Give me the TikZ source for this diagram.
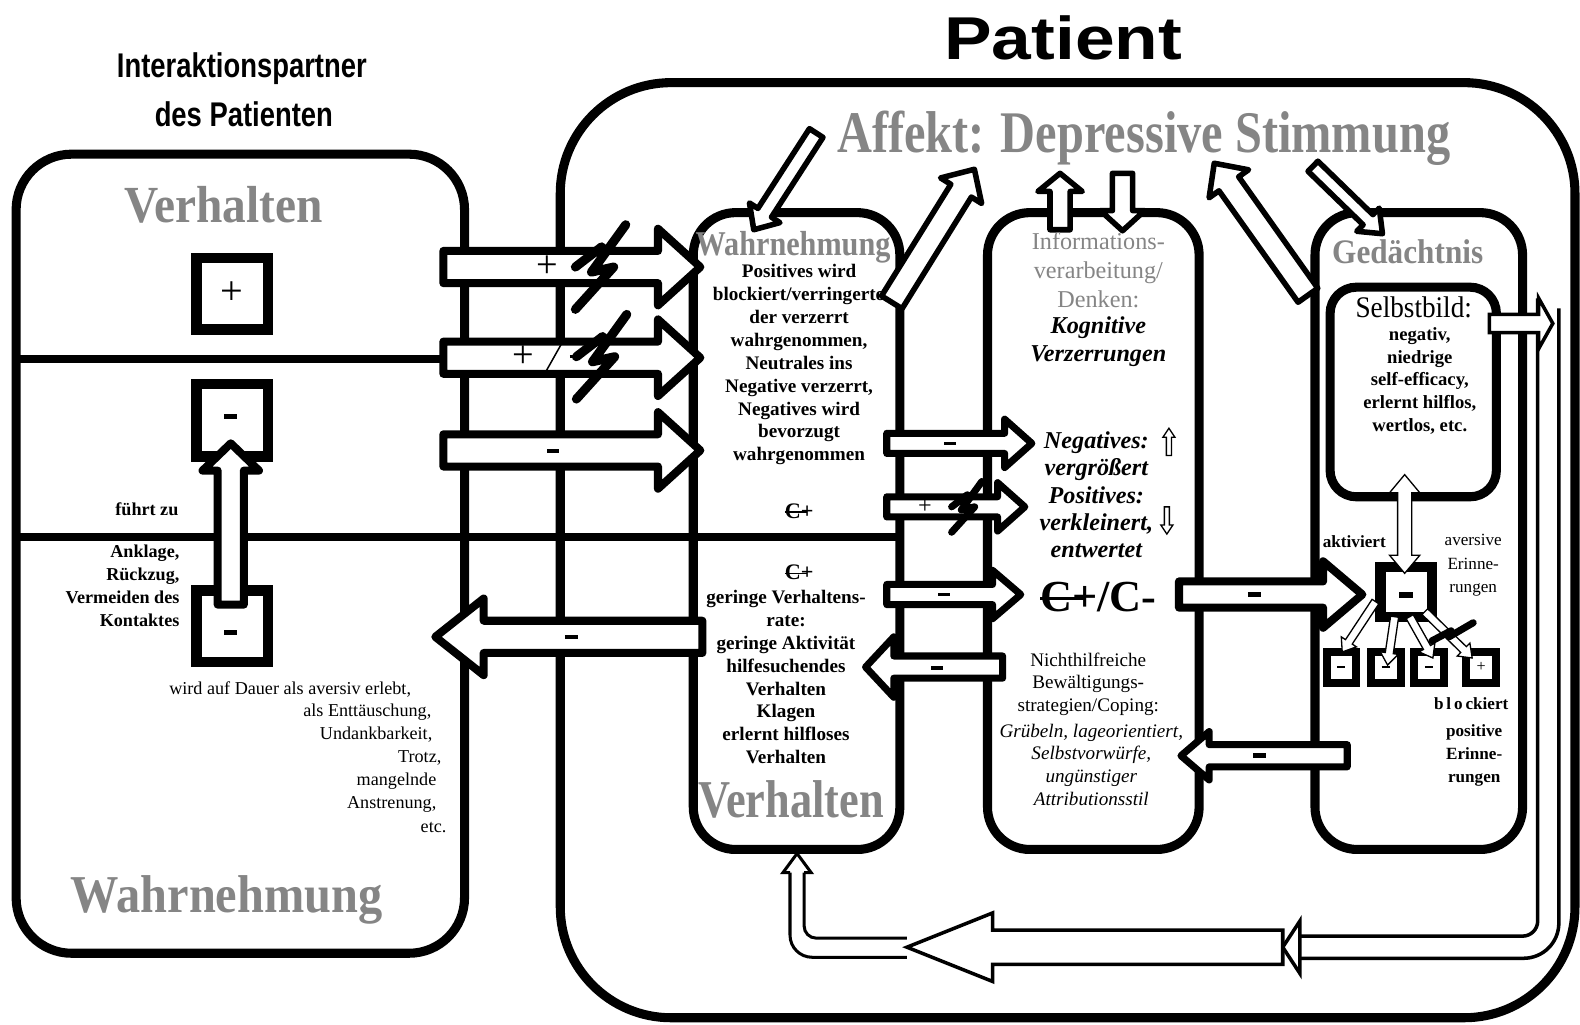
\documentclass[tikz,border=0pt]{standalone}
\usepackage{fontspec}
\usepackage{graphicx}
\setmainfont{Liberation Serif}
\newfontfamily\sansf{Liberation Sans}
\newcommand\fs[2]{\fontsize{#1}{#2}\selectfont}
\newcommand\Cs{\leavevmode\rlap{\rule[0.24em]{1.0em}{0.07em}}C+}
\newcommand\mbar[2]{\rule{#1pt}{#2pt}}
\newcommand\blockarr[8]{%
  \pgfmathsetmacro\bdx{#4-#2}%
  \pgfmathsetmacro\bdy{#5-#3}%
  \pgfmathsetmacro\blen{veclen(\bdx,\bdy)}%
  \pgfmathsetmacro\bang{atan2(-\bdy,\bdx)}%
  \pgfmathsetmacro\bbase{\blen-#8}%
  \draw[#1,shift={(#2,#3)},rotate=\bang] (0,-#6) -- (\bbase,-#6) -- (\bbase,-#7) -- (\blen,0) -- (\bbase,#7) -- (\bbase,#6) -- (0,#6) -- cycle;%
}
\newcommand\bolt[4]{%
  \draw[line width=#4pt,line cap=round,line join=round,shift={(#1,#2)},scale=#3]
    (-26,0) -- (0,-20) (24,-42) -- (-10,5) -- (12,0) -- (-26,42);%
}
\tikzset{
  barr/.style={draw,fill=white,line width=8pt,line join=round},
  carr/.style={draw,fill=white,line width=7pt,line join=round},
  warr/.style={draw,fill=white,line width=5.5pt,line join=round},
  tarr/.style={draw,fill=white,line width=1.3pt,line join=miter},
  rarr/.style={draw,fill=white,line width=3.5pt,line join=miter},
  gtxt/.style={text=black!48},
  bt/.style={font=\bfseries\fs{19}{22.7},align=center},
}
\begin{document}
\begin{tikzpicture}[x=1pt,y=-1pt,every node/.style={inner sep=0pt,outer sep=0pt}]
\fill[white] (0,0) rectangle (1568,1017);
\useasboundingbox (0,0) rectangle (1568,1017);

% ---------- frames ----------
\draw[line width=9pt,rounded corners=55pt] (16,153) rectangle (461,946);
\draw[line width=9pt,rounded corners=110pt] (556,82) rectangle (1563,1010);
\draw[line width=9pt,rounded corners=42pt] (688,211) rectangle (893,843);
\draw[line width=9pt,rounded corners=42pt] (980,211) rectangle (1190,843);
\draw[line width=9pt,rounded corners=42pt] (1305,211) rectangle (1511,843);
\draw[line width=9pt,rounded corners=26pt] (1320,285) rectangle (1485,493);
\draw[line width=8pt] (16,356) -- (461,356);
\draw[line width=8pt] (16,533) -- (893,533);

% ---------- small squares ----------
\draw[line width=10pt] (195,256) rectangle (266,327);
\draw[line width=10pt] (195,381) rectangle (266,453);
\draw[line width=10pt] (195,586) rectangle (266,657);
\draw[line width=10pt] (1370,563) rectangle (1421,612);
\draw[line width=8pt] (1317,647) rectangle (1346,678);
\draw[line width=8pt] (1361,647) rectangle (1390,678);
\draw[line width=8pt] (1403,647) rectangle (1433,678);
\draw[line width=8pt] (1455,647) rectangle (1485,678);

% ---------- return path ----------
\draw[line width=3.5pt,rounded corners=15pt] (1526,296) -- (1526,929) -- (1290,929);
\draw[line width=3.5pt,rounded corners=35pt] (1547,306) -- (1547,951) -- (1290,951);
\draw[line width=3.5pt,fill=white,line join=miter] (1290,914) -- (1273,940) -- (1290,966) -- cycle;
\blockarr{rarr}{1273}{940}{900}{940}{17}{34}{85}
\draw[line width=3pt,rounded corners=12pt] (900,931) -- (798,931) -- (798,866);
\draw[line width=3pt,rounded corners=22pt] (900,950) -- (784,950) -- (784,866);
\draw[line width=3pt,line join=miter] (798,866) -- (805,866) -- (791,847) -- (777,866) -- (784,866);
\blockarr{rarr}{1478}{321}{1541}{321}{9}{25}{14}

% ---------- block arrows ----------
\blockarr{barr}{440}{265}{695}{265}{16}{38}{42}
\blockarr{barr}{440}{355}{695}{355}{16}{38}{42}
\blockarr{barr}{440}{447}{695}{447}{16}{38}{42}
\blockarr{barr}{229}{600}{229}{440}{13}{28}{27}
\blockarr{barr}{697}{632}{432}{632}{16}{38}{48}
\blockarr{carr}{880}{440}{1024}{440}{10}{24}{27}
\blockarr{carr}{880}{503}{1017}{503}{10}{24}{27}
\blockarr{carr}{880}{590}{1013}{590}{10}{24}{28}
\blockarr{carr}{995}{662}{859}{662}{11}{30}{28}
\blockarr{barr}{1170}{590}{1352}{590}{13}{33}{39}
\blockarr{carr}{1337}{750}{1172}{750}{11}{24}{28}

% affect arrows
\blockarr{warr}{810}{132}{748}{228}{8}{18}{20}
\blockarr{warr}{885}{300}{967}{168}{12}{24}{25}
\blockarr{warr}{1052}{228}{1052}{172}{10}{22}{18}
\blockarr{warr}{1114}{172}{1114}{229}{10}{22}{20}
\blockarr{warr}{1298}{293}{1205}{162}{12}{24}{25}
\blockarr{warr}{1303}{165}{1372}{232}{7}{16}{20}

% memory arrows
\draw[tarr] (1394,471) -- (1409,489) -- (1401,489) -- (1401,551) -- (1409,551) -- (1394,569) -- (1379,551) -- (1387,551) -- (1387,489) -- (1379,489) -- cycle;
\blockarr{tarr}{1365}{597}{1332}{647}{4}{9}{12}
\blockarr{tarr}{1384}{612}{1377}{660}{4}{9}{12}
\blockarr{tarr}{1399}{612}{1422}{653}{4}{9}{12}
\blockarr{tarr}{1414}{607}{1461}{653}{4}{9}{12}
\blockarr{tarr}{1160}{452}{1160}{425}{2.5}{6}{9}
\blockarr{tarr}{1158}{503}{1158}{530}{2.5}{6}{9}

% blocking bolts
\bolt{597}{265}{1}{9}
\bolt{598}{354}{1}{9}
\bolt{960}{503}{0.6}{7}
\draw[line width=7pt,line cap=round,line join=round] (1421,636) -- (1440,626) -- (1438,632) -- (1462,618);

% ---------- arrow labels ----------
\node (l1) at (543,265) {\fs{38}{38}+};
\node (l2p) at (519,354) {\fs{38}{38}+};
\draw[line width=1.5pt] (541,370) -- (559,338);
\node (l2m) at (571,354) {\mbar{11}{3.5}};
\node (l3) at (549,448) {\mbar{12}{4}};
\node (l4) at (943,440) {\mbar{12}{3.5}};
\node (l5) at (918,503) {\fs{24}{24}+};
\node (l6) at (937,590) {\mbar{12}{3.5}};
\node (l7) at (930,663) {\mbar{12}{3.5}};
\node (l8) at (567,632) {\mbar{13}{4.5}};
\node (l9) at (1245,590) {\mbar{13}{4.5}};
\node (l10) at (1250,750) {\mbar{13}{4.5}};

% ---------- titles ----------
\node (tpat) at (1055,38) {\scalebox{1.18}[1]{\sansf\bfseries\fs{60}{60}Patient}};
\node (tint1) at (240,68) {\scalebox{0.8}[1]{\sansf\bfseries\fs{34}{34}Interaktionspartner}};
\node (tint2) at (242,113) {\scalebox{0.8}[1]{\sansf\bfseries\fs{34}{34}des Patienten}};
\node[gtxt] (taff) at (1135,137) {\scalebox{1}[1.22]{\bfseries\fs{48}{48}Affekt: Depressive Stimmung}};

% ---------- left box ----------
\node[gtxt] (verhL) at (222,203) {\scalebox{1}[1.1]{\bfseries\fs{47}{47}Verhalten}};
\node (plusL) at (230,291) {\fs{40}{40}+};
\node (minL1) at (229,413) {\mbar{13}{5}};
\node (minL2) at (229,628) {\mbar{13}{5}};
\node[anchor=east,font=\bfseries\fs{18}{22}] (fz) at (177,505) {führt zu};
\node[anchor=north east,align=right,font=\bfseries\fs{18}{22.7}] (ankl) at (178,541) {Anklage,\\Rückzug,\\Vermeiden des\\Kontaktes};
\node[anchor=west,font=\fs{18}{22}] (w1) at (168,684) {wird auf Dauer als aversiv erlebt,};
\node[anchor=east,font=\fs{18}{22}] (w2) at (428,707) {als Enttäuschung,};
\node[anchor=east,font=\fs{18}{22}] (w3) at (429,729) {Undankbarkeit,};
\node[anchor=east,font=\fs{18}{22}] (w4) at (438,752) {Trotz,};
\node[anchor=east,font=\fs{18}{22}] (w5) at (433,775) {mangelnde};
\node[anchor=east,font=\fs{18}{22}] (w6) at (433,798) {Anstrenung,};
\node[anchor=east,font=\fs{18}{22}] (w7) at (443,821) {etc.};
\node[gtxt] (wahrL) at (225,893) {\scalebox{1}[1.1]{\bfseries\fs{48}{48}Wahrnehmung}};

% ---------- column 1 ----------
\node[gtxt] (wahrC) at (787,245) {\scalebox{1}[1.15]{\bfseries\fs{30}{30}Wahrnehmung}};
\node[bt] (perc) at (793,362) {Positives wird\\blockiert/verringerto\\der verzerrt\\wahrgenommen,\\Neutrales ins\\Negative verzerrt,\\Negatives wird\\bevorzugt\\wahrgenommen};
\node (cp1) at (793,507) {\bfseries\fs{22}{22}\Cs};
\node (cp2) at (793,568) {\bfseries\fs{22}{22}\Cs};
\node[bt] (beh) at (780,672) {geringe Verhaltens-\\rate:\\geringe Aktivität\\hilfesuchendes\\Verhalten\\Klagen\\erlernt hilfloses\\Verhalten};
\node[gtxt] (verhC) at (785,793) {\scalebox{1}[1.2]{\bfseries\fs{44}{44}Verhalten}};

% ---------- column 2 ----------
\node[gtxt,align=center,font=\fs{24}{28.5}] (info) at (1090,268) {Informations-\\verarbeitung/\\Denken:};
\node[align=center,font=\bfseries\itshape\fs{24}{28}] (kog) at (1090,339) {Kognitive\\Verzerrungen};
\node[align=center,font=\bfseries\itshape\fs{24}{27.2}] (negpos) at (1088,491) {Negatives:\\vergrößert\\Positives:\\verkleinert,\\entwertet};
\node (cpcm) at (1090,592) {\bfseries\fs{44}{44}\Cs/C-};
\node[align=center,font=\fs{19}{22.7}] (nicht) at (1080,679) {Nichthilfreiche\\Bewältigungs-\\strategien/Coping:};
\node[align=center,font=\itshape\fs{19}{22.7}] (grueb) at (1083,759) {Grübeln, lageorientiert,\\Selbstvorwürfe,\\ungünstiger\\Attributionsstil};

% ---------- column 3 ----------
\node[gtxt] (ged) at (1397,250) {\scalebox{1}[1.1]{\bfseries\fs{31}{31}Gedächtnis}};
\node (selbst) at (1403,305) {\scalebox{1}[1.1]{\fs{27}{27}Selbstbild:}};
\node[align=center,font=\bfseries\fs{18.5}{22.5}] (slist) at (1409,378) {negativ,\\niedrige\\self-efficacy,\\erlernt hilflos,\\wertlos, etc.};
\node[font=\bfseries\fs{17}{20}] (akt) at (1344,538) {aktiviert};
\node[align=center,font=\fs{17}{23}] (avers) at (1462,561) {aversive\\Erinne-\\rungen};
\node (minM) at (1395,590) {\mbar{14}{6}};
\node (s1) at (1331,662) {\mbar{8}{1.5}};
\node (s2) at (1375,662) {\mbar{8}{1.5}};
\node (s3) at (1418,662) {\mbar{8}{1.5}};
\node (s4) at (1470,662) {\fs{16}{16}+};
\node[font=\bfseries\fs{17}{20}] (block) at (1460,698) {b\,l\,o\,ckiert};
\node[align=center,font=\bfseries\fs{17}{23}] (posE) at (1463,750) {positive\\Erinne-\\rungen};
\end{tikzpicture}
\end{document}
